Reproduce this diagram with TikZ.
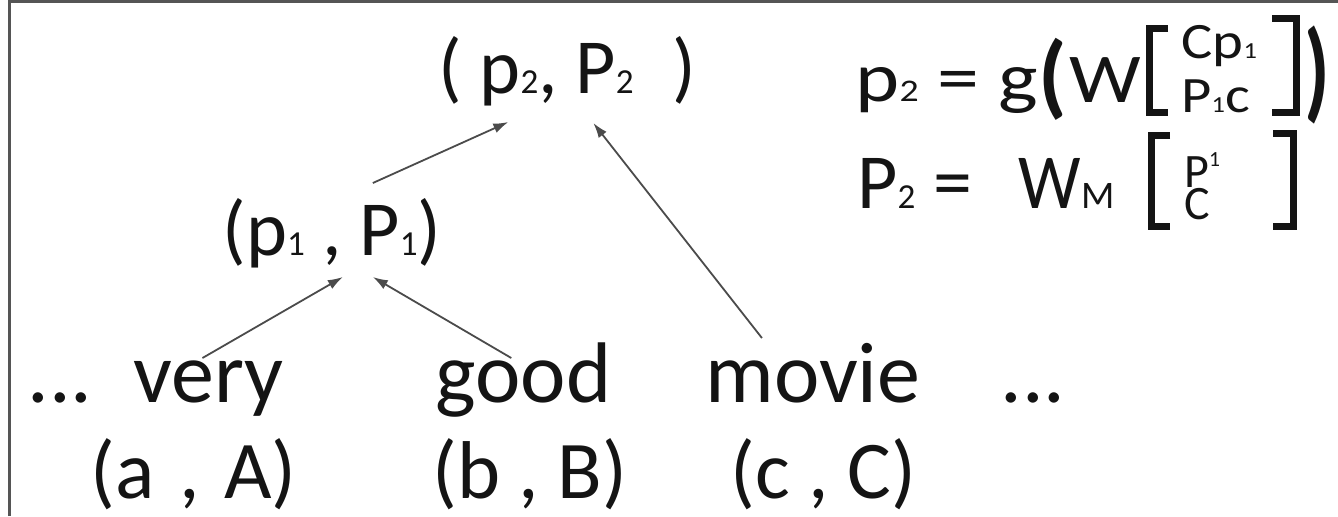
\documentclass[tikz,border=0pt]{standalone}
\usepackage{fontspec}
\setmainfont{Carlito}
\usepackage{graphicx}
\usetikzlibrary{arrows.meta}
\definecolor{ink}{RGB}{20,20,20}
\definecolor{wire}{RGB}{75,75,75}
\definecolor{rim}{RGB}{85,85,85}
\newcommand\lo[1]{\scalebox{0.45}{#1}}
\newcommand\hi[1]{\raisebox{0.45em}{\scalebox{0.45}{#1}}}
\tikzset{
  >={Latex[length=7.5pt,width=5pt]},
  word/.style={anchor=base west,inner sep=0pt,text=ink,font=\fontsize{43}{50}\selectfont},
  leaf/.style={word,font=\fontsize{41}{48}\selectfont},
  pair/.style={word,font=\fontsize{#1}{#1}\selectfont},
  pair/.default=38,
  arr/.style={->,draw=wire,line width=0.9pt},
  brk/.style={draw=ink,line width=3.5pt},
  frame/.style={draw=rim,line width=1.5pt},
}

\begin{document}
\begin{tikzpicture}[x=0.5pt,y=-0.5pt]
  \useasboundingbox (0,0) rectangle (1338,516);
  \draw[frame] (9.5,516) -- (9.5,1.5) -- (1338,1.5);
  % words and leaf pairs
  \node[word] (dl) at (27,402) {...};
  \node[word] (very) at (133,402) {very};
  \node[word] (good) at (435,402) {good};
  \node[word] (movie) at (705,402) {movie};
  \node[word] (dr) at (1000,402) {...};
  \node[leaf] (a) at (90,498) {(a\hspace{0.3em},\hspace{0.3em}A)};
  \node[leaf] (b) at (432,498) {(b , B)};
  \node[leaf] (c) at (730,498) {(c , C)};
  % composed pairs
  \node[pair=39] (p1) at (222,255) {(p\lo1 , P\lo1)};
  \node[pair=39] (p2) at (438,93) {( p\lo2, P\lo2\hspace{0.5em})};
  \draw[arr] ([shift={(-6,-44)}]very.base) -- ([shift={(11,22)}]p1.base);
  \draw[arr] ([shift={(-12,-44)}]good.base) -- ([shift={(41,22)}]p1.base);
  \draw[arr] ([shift={(41,-72)}]p1.base) -- ([shift={(-59,29)}]p2.base);
  \draw[arr] ([shift={(-51,-64)}]movie.base) -- ([shift={(26,30)}]p2.base);
  % equations
  \node[pair=35] (e1) at (855,101) {\scalebox{1.2}[1]{p\lo2 = g}};
  \node[pair=46] (e1p) at (1038,106) {\bfseries(};
  \node[pair=35] (e1w) at (1069,102) {\scalebox{1.15}[1]{W}};
  \node[pair=25.5] (v1a) at (1181,58) {\scalebox{1.15}[1]{Cp\lo1}};
  \node[pair=25.5] (v1b) at (1181,112) {\scalebox{1.15}[1]{P\lo1c}};
  \node[pair=55] (e1c) at (1304,107) {\scalebox{0.75}[1]{\bfseries)}};
  \draw[brk] (1168,28) -- (1149,28) -- (1149,112) -- (1168,112);
  \draw[brk] (1272,18) -- (1296,18) -- (1296,112) -- (1272,112);
  \node[pair=39] (e2) at (857,208) {P\lo2 =\hspace{0.6em}\scalebox{0.9}[1]{W}\scalebox{0.5}{M}};
  \node[pair=24,font=\fontsize{24}{16}\selectfont,align=left,anchor=north west] (v2) at (1184,152) {P\hi1\\C};
  \draw[brk] (1170,135) -- (1151,135) -- (1151,226) -- (1170,226);
  \draw[brk] (1273,133) -- (1293,133) -- (1293,226) -- (1273,226);
\end{tikzpicture}
\end{document}
